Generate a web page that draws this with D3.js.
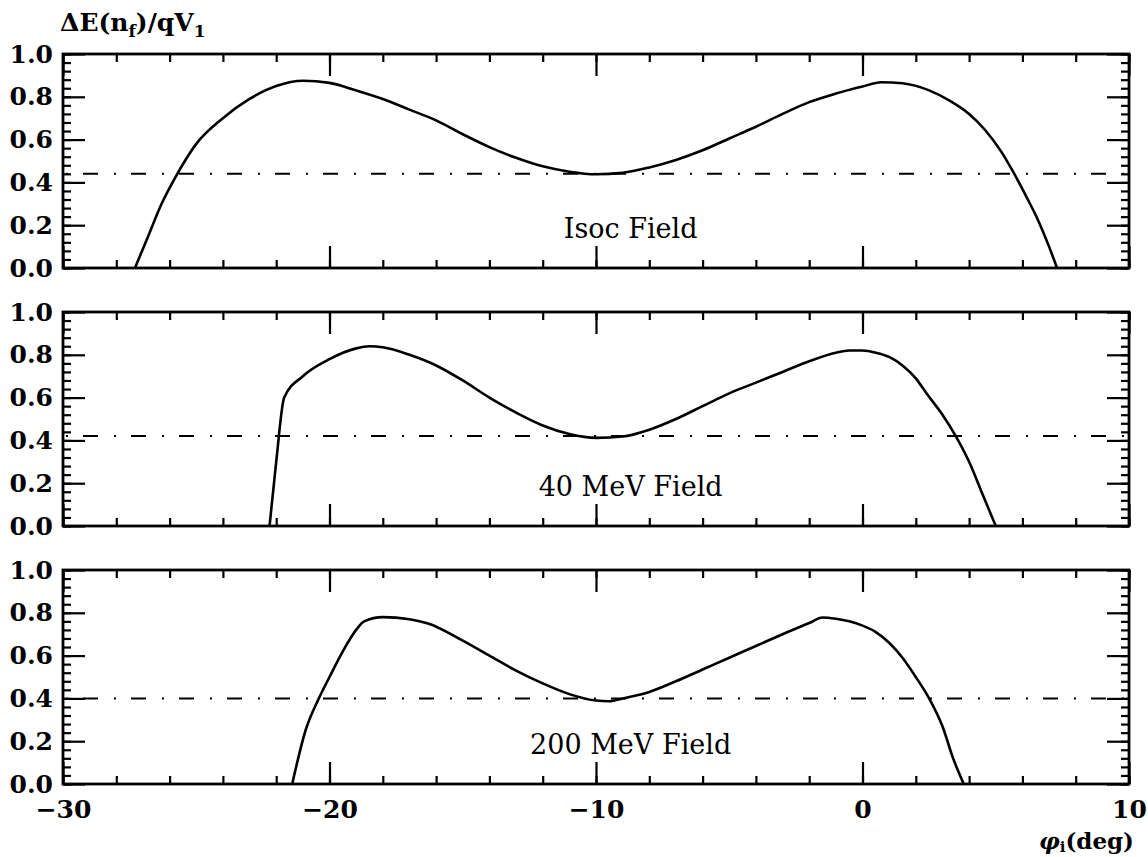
<!DOCTYPE html>
<html>
<head>
<meta charset="utf-8">
<script src="https://cdn.jsdelivr.net/npm/d3@7"></script>
<style>
  body { margin: 0; background: #fff; }
  svg text { font-family: "DejaVu Serif", "Liberation Serif", serif; fill: #000; }
</style>
</head>
<body>
<svg id="drawing_region"></svg>
<script>
// panel names and reference (dash-dot) levels
const panelNames = ['Isoc Field', '40 MeV Field', '200 MeV Field'];
const refLevels = [0.44, 0.42, 0.40];

// curves: [phi_i, dE/qV1]
const isocCurve = [[-27.3,0],[-26.8,0.15],[-26.3,0.3],[-25.8,0.42],[-25,0.58],[-24,0.7],[-23,0.79],[-22,0.85],
  [-21,0.875],[-20,0.865],[-19,0.83],[-18,0.79],[-17,0.74],[-16,0.69],[-15,0.625],[-14,0.565],[-13,0.515],
  [-12,0.475],[-11,0.45],[-10,0.438],[-9,0.445],[-8,0.47],[-7,0.505],[-6,0.55],[-5,0.605],[-4,0.66],[-3,0.72],
  [-2,0.775],[-1,0.815],[0,0.848],[0.7,0.868],[1.5,0.863],[2.5,0.83],[3.3,0.78],[4,0.72],[4.6,0.645],[5.2,0.545],
  [5.65,0.45],[6.1,0.345],[6.6,0.22],[7,0.1],[7.3,0]];
const mev40Curve = [[-22.25,0],[-22,0.3],[-21.7,0.6],[-21,0.7],[-20,0.78],[-19,0.83],[-18.5,0.84],[-18,0.835],
  [-17,0.8],[-16,0.75],[-15,0.68],[-14,0.6],[-13,0.53],[-12,0.47],[-11,0.43],[-10,0.412],[-9,0.418],[-8,0.45],
  [-7,0.5],[-6,0.56],[-5,0.62],[-4,0.67],[-3,0.72],[-2,0.77],[-1,0.81],[-0.5,0.82],[0,0.82],[0.5,0.81],[1,0.79],
  [1.5,0.75],[2,0.69],[2.4,0.62],[3,0.52],[3.5,0.42],[4,0.3],[4.5,0.15],[5,0]];
const mev200Curve = [[-21.4,0],[-20.9,0.25],[-20.4,0.4],[-20,0.5],[-19.5,0.62],[-19,0.72],[-18.7,0.76],[-18,0.78],
  [-17,0.77],[-16.3,0.75],[-15,0.67],[-14,0.6],[-13,0.53],[-12,0.47],[-11,0.42],[-10,0.39],[-9.5,0.387],[-9,0.4],
  [-8,0.43],[-7,0.48],[-6,0.535],[-5,0.59],[-4,0.645],[-3,0.7],[-2,0.752],[-1.5,0.778],[-1,0.772],[-0.5,0.76],
  [0,0.74],[0.5,0.71],[1,0.66],[1.5,0.59],[2,0.5],[2.5,0.4],[3,0.27],[3.4,0.12],[3.8,0]];
const curves = [isocCurve, mev40Curve, mev200Curve];

const xMajorTicks = [-30, -20, -10, 0, 10];
const yMajorTicks = [0, 0.2, 0.4, 0.6, 0.8, 1.0];

const width = 1148, height = 857;
const left = 63, right = 1129;
const panelTops = [54, 312, 570];
const panelH = 214;

const svg = d3.select('#drawing_region')
    .attr('width', width)
    .attr('height', height);

const xscale = d3.scaleLinear().domain([-30, 10]).range([left, right]);
const xMinor = d3.range(-30, 10.001, 2);
const yMinor = d3.range(0, 1.0001, 0.04);

const labelFont = sel => sel.attr('font-size', 25).attr('font-weight', 'bold')
    .attr('font-family', '"DejaVu Serif", serif').attr('fill', '#000');

panelTops.forEach((top, i) => {
    const yscale = d3.scaleLinear().domain([0, 1]).range([top + panelH, top]);
    const g = svg.append('g');

    const styleAxis = sel => {
        sel.select('.domain').remove();
        sel.selectAll('line').attr('stroke', '#000').attr('stroke-width', 2.2);
    };

    // y axes, ticks inward
    g.append('g').attr('transform', `translate(${left},0)`)
        .call(d3.axisLeft(yscale).tickValues(yMinor).tickSize(-8).tickFormat(''))
        .call(styleAxis);
    g.append('g').attr('transform', `translate(${left},0)`)
        .call(d3.axisLeft(yscale).tickValues(yMajorTicks).tickSize(-22).tickPadding(10).tickFormat(d3.format('.1f')))
        .call(styleAxis)
        .call(s => s.selectAll('text').call(labelFont));
    g.append('g').attr('transform', `translate(${right},0)`)
        .call(d3.axisRight(yscale).tickValues(yMinor).tickSize(-8).tickFormat(''))
        .call(styleAxis);
    g.append('g').attr('transform', `translate(${right},0)`)
        .call(d3.axisRight(yscale).tickValues(yMajorTicks).tickSize(-22).tickFormat(''))
        .call(styleAxis);

    // x axes, ticks inward
    g.append('g').attr('transform', `translate(0,${top})`)
        .call(d3.axisTop(xscale).tickValues(xMinor).tickSize(-8).tickFormat(''))
        .call(styleAxis);
    g.append('g').attr('transform', `translate(0,${top})`)
        .call(d3.axisTop(xscale).tickValues(xMajorTicks).tickSize(-22).tickFormat(''))
        .call(styleAxis);
    g.append('g').attr('transform', `translate(0,${top + panelH})`)
        .call(d3.axisBottom(xscale).tickValues(xMinor).tickSize(-8).tickFormat(''))
        .call(styleAxis);
    g.append('g').attr('transform', `translate(0,${top + panelH})`)
        .call(d3.axisBottom(xscale).tickValues(xMajorTicks).tickSize(-22).tickPadding(16)
            .tickFormat(i === 2 ? d3.format('d') : ''))
        .call(styleAxis)
        .call(s => s.selectAll('text').call(labelFont));

    // frame
    g.append('rect')
        .attr('x', left).attr('y', top)
        .attr('width', right - left).attr('height', panelH)
        .attr('fill', 'none').attr('stroke', '#000').attr('stroke-width', 2.8);

    // dash-dot reference level
    g.append('line')
        .attr('x1', xscale(-30)).attr('x2', xscale(10))
        .attr('y1', yscale(refLevels[i])).attr('y2', yscale(refLevels[i]))
        .attr('stroke', '#000').attr('stroke-width', 2)
        .attr('stroke-dasharray', '15,16,2,15')
        .attr('stroke-dashoffset', -20);

    // curve
    g.append('path')
        .attr('d', d3.line().x(d => xscale(d[0])).y(d => yscale(d[1])).curve(d3.curveMonotoneX)(curves[i]))
        .attr('fill', 'none')
        .attr('stroke', '#000')
        .attr('stroke-width', 2.6)
        .attr('stroke-linejoin', 'round');

    // panel label
    g.append('text')
        .attr('x', xscale(-8.7))
        .attr('y', top + panelH - 30)
        .attr('text-anchor', 'middle')
        .attr('font-size', 27)
        .text(panelNames[i]);
});

// y axis title
const yt = svg.append('text')
    .attr('x', 60).attr('y', 31)
    .attr('font-size', 25).attr('font-weight', 'bold');
yt.append('tspan').text('ΔE(n');
yt.append('tspan').attr('font-size', 17).attr('dy', 6).text('f');
yt.append('tspan').attr('dy', -6).text(')/qV');
yt.append('tspan').attr('font-size', 17).attr('dy', 6).text('1');

// x axis title
const xt = svg.append('text')
    .attr('x', 1134).attr('y', 849)
    .attr('text-anchor', 'end')
    .attr('font-size', 23).attr('font-weight', 'bold');
xt.append('tspan').attr('font-style', 'italic').text('φ');
xt.append('tspan').attr('font-size', 15).attr('dy', 3).text('i');
xt.append('tspan').attr('dy', -3).text('(deg)');
</script>
</body>
</html>
